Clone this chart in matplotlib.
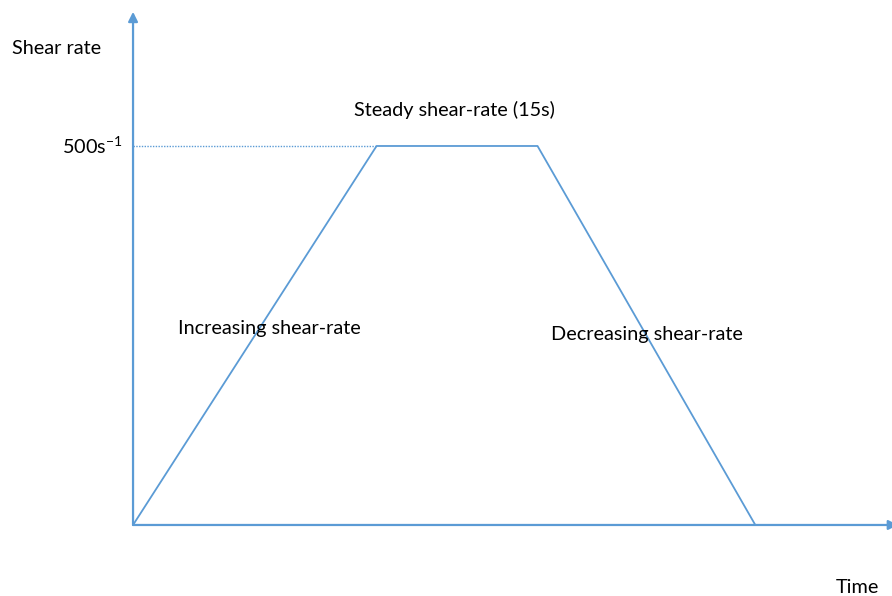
import matplotlib.pyplot as plt

plt.rcParams['font.family'] = ['Lato', 'DejaVu Sans']
plt.rcParams['mathtext.default'] = 'regular'

# profile: time (s) and shear rate (1/s)
time_s = [0, 22.7, 37.7, 58.0]
shear_rate = [0, 500, 500, 0]
plateau = 500

blue = '#5B9BD5'

fig = plt.figure(figsize=(8.92, 5.96), dpi=100)
ax = fig.add_axes([0, 0, 1, 1])
ax.set_xlim(-12.40, 70.74)
ax.set_ylim(-93.7, 692.6)
ax.axis('off')

# axes with arrows
ax.annotate('', xy=(0, 677), xytext=(0, 0), annotation_clip=False,
            arrowprops=dict(arrowstyle='-|>', color=blue, lw=1.6,
                            mutation_scale=14, shrinkA=0, shrinkB=0))
ax.annotate('', xy=(71.3, 0), xytext=(0, 0), annotation_clip=False,
            arrowprops=dict(arrowstyle='-|>', color=blue, lw=1.6,
                            mutation_scale=14, shrinkA=0, shrinkB=0))

# dotted guide to plateau
ax.plot([0, time_s[1]], [plateau, plateau], color=blue, lw=1.0, ls=(0, (1, 1)))

# shear-rate profile
ax.plot(time_s, shear_rate, color=blue, lw=1.3, solid_capstyle='butt')

fs = 14.3
ax.text(-11.3, 629, 'Shear rate', fontsize=fs, ha='left', va='center')
ax.text(-1.0, plateau, '500s$^{-1}$', fontsize=fs, ha='right', va='center')
ax.text(30.0, 548, 'Steady shear-rate (15s)', fontsize=fs, ha='center', va='center')
ax.text(4.2, 259, 'Increasing shear-rate', fontsize=fs, ha='left', va='center')
ax.text(39.0, 251, 'Decreasing shear-rate', fontsize=fs, ha='left', va='center')
ax.text(67.5, -82, 'Time', fontsize=fs, ha='center', va='center')

fig.savefig('out.png', dpi=100)
